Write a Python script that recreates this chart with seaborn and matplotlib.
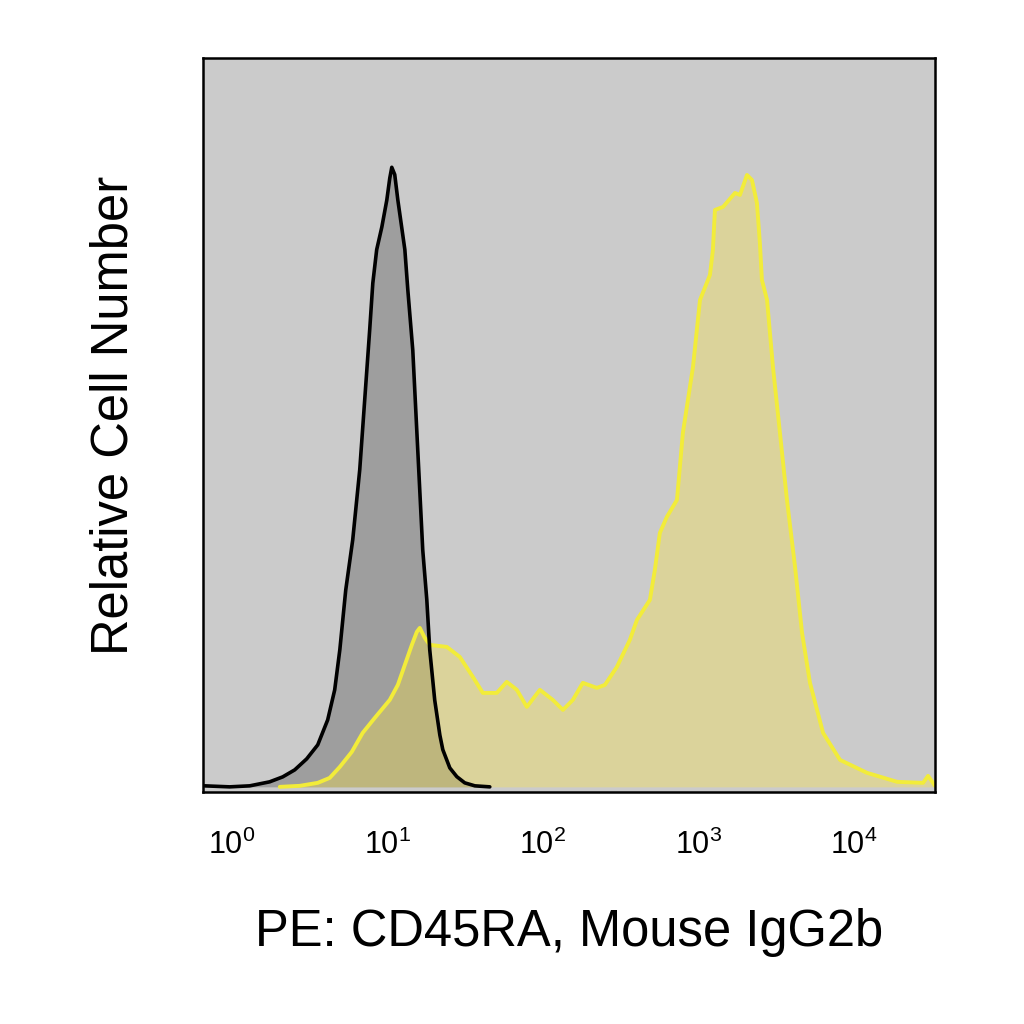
import numpy as np
import pandas as pd
import matplotlib
matplotlib.use('Agg')
import matplotlib.pyplot as plt
import seaborn as sns

# 直方图数据（x 为荧光强度的 log10 值，y 为相对细胞数）
isotype_log = [-0.174, -0.013, 0.116, 0.244, 0.328, 0.405, 0.482, 0.553, 0.617, 0.662,
               0.695, 0.733, 0.778, 0.823, 0.855, 0.887, 0.907, 0.932, 0.965, 0.997,
               1.016, 1.029, 1.048, 1.068, 1.113, 1.132, 1.164, 1.196, 1.228, 1.254,
               1.273, 1.305, 1.338, 1.357, 1.402, 1.447, 1.498, 1.563, 1.659]
isotype_count = [0.14, 0.0, 0.14, 0.69, 1.37, 2.33, 3.84, 5.76, 9.19, 13.3,
                 18.8, 27.0, 33.9, 43.5, 53.1, 62.7, 69.1, 73.7, 76.8, 80.5,
                 83.5, 85.0, 84.0, 80.5, 73.7, 68.2, 59.9, 46.2, 32.5, 25.7,
                 18.8, 11.9, 7.1, 5.1, 2.6, 1.4, 0.55, 0.14, 0.0]

cd45ra_log = [0.309, 0.437, 0.553, 0.630, 0.695, 0.772, 0.842, 0.920, 1.016, 1.068,
              1.113, 1.158, 1.190, 1.209, 1.241, 1.273, 1.383, 1.466, 1.550, 1.614,
              1.704, 1.768, 1.833, 1.897, 1.981, 2.064, 2.129, 2.193, 2.257, 2.347,
              2.399, 2.476, 2.559, 2.605, 2.688, 2.720, 2.752, 2.797, 2.862, 2.900,
              2.965, 3.010, 3.074, 3.093, 3.106, 3.158, 3.235, 3.267, 3.312, 3.344,
              3.376, 3.395, 3.408, 3.441, 3.479, 3.524, 3.569, 3.621, 3.666, 3.717,
              3.801, 3.910, 4.084, 4.277, 4.444, 4.476, 4.521]
cd45ra_count = [0.0, 0.14, 0.55, 1.23, 2.74, 4.80, 7.41, 9.47, 11.93, 13.99,
                16.74, 19.48, 21.26, 21.81, 20.44, 19.48, 19.20, 17.83, 15.09, 12.89,
                12.89, 14.40, 13.31, 10.97, 13.31, 11.93, 10.56, 11.93, 14.27, 13.58,
                13.99, 16.46, 20.16, 22.91, 25.65, 29.77, 34.84, 37.04, 39.37, 48.56,
                57.61, 66.80, 70.23, 73.66, 79.15, 79.56, 81.48, 81.21, 83.95, 83.26,
                80.11, 74.62, 69.55, 66.80, 57.61, 48.56, 39.37, 30.18, 21.12, 14.27,
                7.41, 3.70, 1.92, 0.69, 0.55, 1.51, 0.14]

tick_values = [1, 10, 100, 1000, 10000]
tick_labels = ['$10^{0}$', '$10^{1}$', '$10^{2}$', '$10^{3}$', '$10^{4}$']

iso_df = pd.DataFrame({'fl': 10 ** np.array(isotype_log), 'count': isotype_count})
cd_df = pd.DataFrame({'fl': 10 ** np.array(cd45ra_log), 'count': cd45ra_count})

sns.set_style('white')
plt.rcParams['font.family'] = ['Liberation Sans', 'DejaVu Sans']
plt.rcParams['mathtext.fontset'] = 'custom'
plt.rcParams['mathtext.rm'] = 'Liberation Sans'
plt.rcParams['mathtext.it'] = 'Liberation Sans:italic'
plt.rcParams['text.color'] = 'black'
plt.rcParams['axes.labelcolor'] = 'black'
plt.rcParams['xtick.color'] = 'black'

fig = plt.figure(figsize=(10.24, 10.24), dpi=100)
ax = fig.add_axes([0.198, 0.2266, 0.715, 0.7168])
ax.set_facecolor('#cbcbcb')

# 同型对照（黑色）
ax.fill_between(iso_df['fl'], 0, iso_df['count'], color='black', alpha=0.22, linewidth=0)
# CD45RA（黄色）
ax.fill_between(cd_df['fl'], 0, cd_df['count'], color='#fbe442', alpha=0.35, linewidth=0)
sns.lineplot(data=cd_df, x='fl', y='count', ax=ax, color='#f2ec3a', linewidth=2.8,
             sort=False, estimator=None)
sns.lineplot(data=iso_df, x='fl', y='count', ax=ax, color='black', linewidth=2.6,
             sort=False, estimator=None)

ax.set_xscale('log')
ax.set_xlim(10 ** -0.186, 10 ** 4.52)
ax.set_ylim(-0.7, 100)
ax.set_xticks(tick_values)
ax.set_xticklabels(tick_labels, fontsize=22)
ax.xaxis.set_minor_locator(matplotlib.ticker.NullLocator())
ax.set_yticks([])
ax.tick_params(axis='x', length=0, pad=27)

for s in ax.spines.values():
    s.set_visible(True)
    s.set_color('black')
    s.set_linewidth(1.8)

ax.set_xlabel('PE: CD45RA, Mouse IgG2b', fontsize=36.5, labelpad=34)
ax.set_ylabel('Relative Cell Number', fontsize=36.5, labelpad=46)
ax.yaxis.label.set_y(0.513)

fig.savefig('out.png', dpi=100, facecolor='white')
